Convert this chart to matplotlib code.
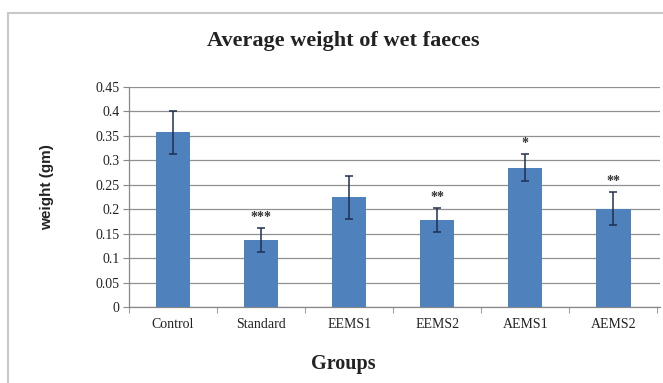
import matplotlib
matplotlib.use("Agg")
import matplotlib.pyplot as plt
from matplotlib.patches import Rectangle

groups = ["Control", "Standard", "EEMS1", "EEMS2", "AEMS1", "AEMS2"]
weights = [0.357, 0.137, 0.224, 0.178, 0.285, 0.201]
errors = [0.044, 0.025, 0.043, 0.025, 0.028, 0.034]
marks = ["", "***", "", "**", "*", "**"]
yticks = [0, 0.05, 0.1, 0.15, 0.2, 0.25, 0.3, 0.35, 0.4, 0.45]
ytick_labels = ["0", "0.05", "0.1", "0.15", "0.2", "0.25", "0.3", "0.35", "0.4", "0.45"]

W, H = 663, 383
fig = plt.figure(figsize=(W / 100, H / 100), dpi=100)
fig.patch.set_facecolor("white")

# chart border
fig.patches.append(Rectangle((8 / W, -0.2), 1.5, (H - 13) / H + 0.2,
                             transform=fig.transFigure, fill=False,
                             edgecolor="#c8c8c8", linewidth=1.5))

ax = fig.add_axes([129 / W, 76 / H, (660 - 129) / W, (296 - 76) / H])
x = list(range(len(groups)))
ax.bar(x, weights, width=0.39, color="#4F81BD", zorder=3)
ax.errorbar(x, weights, yerr=errors, fmt="none", ecolor="#1F3050",
            elinewidth=1.1, capsize=3, capthick=1.1, zorder=4)

for xi, w, e, m in zip(x, weights, errors, marks):
    if m:
        ax.annotate(m, (xi, w + e), xytext=(0, 3), textcoords="offset points",
                    ha="center", va="bottom", fontsize=10, fontweight="bold",
                    family="Liberation Serif", color="#333333")

ax.set_xlim(-0.5, len(groups) - 0.5 + 0.03)
ax.set_ylim(0, 0.45)
ax.set_yticks(yticks)
ax.set_yticklabels(ytick_labels, family="Liberation Serif", fontsize=10, color="#222222")
ax.set_xticks(x)
ax.set_xticklabels(groups, family="Liberation Serif", fontsize=10, color="#222222")
ax.tick_params(axis="x", length=0, pad=8)
ax.tick_params(axis="y", length=4, color="#888888", pad=3)
ax.set_xticks([i - 0.5 for i in range(len(groups) + 1)], minor=True)
ax.tick_params(axis="x", which="minor", length=4, color="#888888", direction="out")

ax.grid(axis="y", color="#909090", linewidth=0.9, zorder=0)
for s in ["top", "right"]:
    ax.spines[s].set_visible(False)
for s in ["left", "bottom"]:
    ax.spines[s].set_color("#888888")
    ax.spines[s].set_linewidth(0.9)

fig.text(47 / W, 1 - 187 / H, "weight (gm)", rotation=90, ha="center", va="center",
         family="Liberation Sans", fontweight="bold", fontsize=11, color="#222222")
fig.text(343 / W, 1 - 364 / H, "Groups", ha="center", va="center",
         family="Liberation Serif", fontweight="bold", fontsize=14.5, color="#222222")
fig.text(343 / W, 1 - 41 / H, "Average weight of wet faeces", ha="center", va="center",
         family="Liberation Serif", fontweight="bold", fontsize=16, color="#222222")

fig.savefig("out.png", dpi=100)
